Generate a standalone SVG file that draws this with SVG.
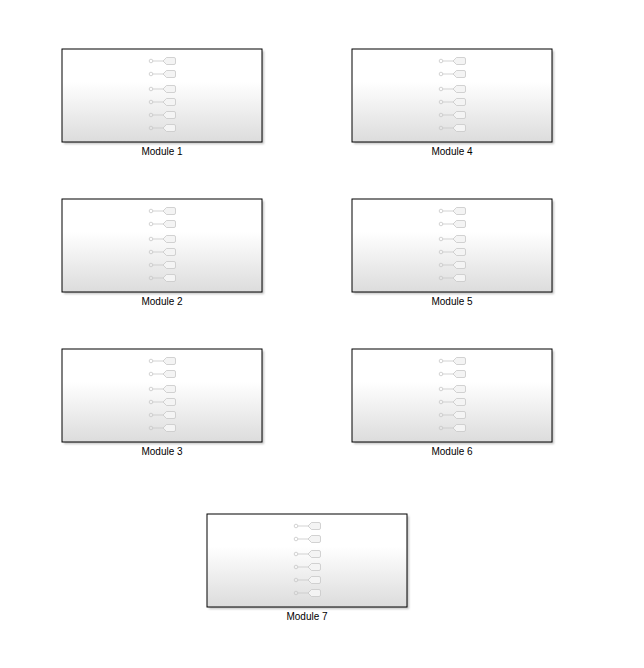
<svg xmlns="http://www.w3.org/2000/svg" xmlns:xlink="http://www.w3.org/1999/xlink" width="644" height="668" viewBox="0 0 644 668">
<style>
.lbl{font-family:"Liberation Sans",Arial,sans-serif;font-size:10px;fill:#000;text-anchor:middle}
.box{fill:url(#g);stroke:#000;stroke-width:1}
.sh{fill:#9a9a9a;opacity:0.6}
.ic{fill:none;stroke:#c8c8c8;stroke-width:0.8}
.tag{fill:#f4f4f4;stroke:#c8c8c8;stroke-width:0.8}
</style>
<defs>
<linearGradient id="g" x1="0" y1="0" x2="0" y2="1">
<stop offset="0" stop-color="#ffffff"/>
<stop offset="0.35" stop-color="#ffffff"/>
<stop offset="1" stop-color="#dcdcdc"/>
</linearGradient>
<filter id="blur" x="-10%" y="-10%" width="120%" height="120%"><feGaussianBlur stdDeviation="1"/></filter>
<g id="port">
<circle class="ic" cx="89" cy="0" r="1.8"/>
<line class="ic" x1="90.8" y1="0" x2="101" y2="0"/>
<path class="tag" d="M101,0 L104.5,-3.5 L112,-3.5 Q113.5,-3.5 113.5,-2 L113.5,2 Q113.5,3.5 112,3.5 L104.5,3.5 Z"/>
</g>
<g id="mod">
<rect class="sh" x="2" y="2" width="200" height="93" filter="url(#blur)"/>
<rect class="box" x="0" y="0" width="200" height="93"/>
<use xlink:href="#port" y="12"/>
<use xlink:href="#port" y="25"/>
<use xlink:href="#port" y="40"/>
<use xlink:href="#port" y="53"/>
<use xlink:href="#port" y="66"/>
<use xlink:href="#port" y="79"/>
</g>
</defs>
<rect width="644" height="668" fill="#fff"/>
<g id="connectors"/>
<g id="module1"><use xlink:href="#mod" x="62" y="49"/><text class="lbl" x="162" y="155">Module 1</text></g>
<g id="module2"><use xlink:href="#mod" x="62" y="199"/><text class="lbl" x="162" y="305">Module 2</text></g>
<g id="module3"><use xlink:href="#mod" x="62" y="349"/><text class="lbl" x="162" y="455">Module 3</text></g>
<g id="module4"><use xlink:href="#mod" x="352" y="49"/><text class="lbl" x="452" y="155">Module 4</text></g>
<g id="module5"><use xlink:href="#mod" x="352" y="199"/><text class="lbl" x="452" y="305">Module 5</text></g>
<g id="module6"><use xlink:href="#mod" x="352" y="349"/><text class="lbl" x="452" y="455">Module 6</text></g>
<g id="module7"><use xlink:href="#mod" x="207" y="514"/><text class="lbl" x="307" y="620">Module 7</text></g>
</svg>
